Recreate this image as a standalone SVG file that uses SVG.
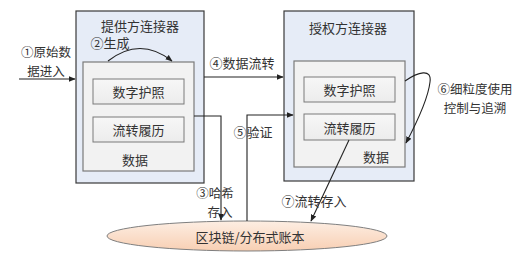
<svg xmlns="http://www.w3.org/2000/svg" width="526" height="261" viewBox="0 0 526 261">
<style>
text{font-family:"Noto Sans CJK SC","Noto Sans",sans-serif;font-size:13px;fill:#333;text-anchor:middle;dominant-baseline:central}
text.ml{font-size:12.5px}
.outer{fill:#e6ecf7;stroke:#3a3a3a;stroke-width:1.2}
.inner{fill:#f2f2f2;stroke:#7a7a7a;stroke-width:1.2}
.item{fill:url(#gItem);stroke:#7a7a7a;stroke-width:1}
.line{fill:none;stroke:#222;stroke-width:1.1}
.arr{marker-end:url(#ah)}
</style>
<defs>
<marker id="ah" viewBox="0 0 10 10" refX="9" refY="5" markerWidth="7" markerHeight="7" orient="auto" markerUnits="userSpaceOnUse"><path d="M0,1 L10,5 L0,9 z" fill="#222"/></marker>
<linearGradient id="gItem" x1="0" y1="0" x2="0" y2="1"><stop offset="0" stop-color="#f7f7f7"/><stop offset="1" stop-color="#ececec"/></linearGradient>
<linearGradient id="gEll" x1="0" y1="0" x2="0" y2="1"><stop offset="0" stop-color="#fdeee3"/><stop offset="1" stop-color="#f8cfb3"/></linearGradient>
</defs>
<g id="provider">
<rect class="outer" x="76" y="11" width="128" height="172"/>
<text x="140" y="25">提供方连接器</text>
<rect class="inner" x="83" y="62" width="111" height="109"/>
<rect class="item" x="93" y="79" width="91" height="25"/>
<text x="138.5" y="91.5">数字护照</text>
<rect class="item" x="93" y="117" width="91" height="25"/>
<text x="138.5" y="129.5">流转履历</text>
<text x="135" y="159">数据</text>
</g>
<g id="authorized">
<rect class="outer" x="284" y="11" width="130" height="170"/>
<text x="348" y="27">授权方连接器</text>
<rect class="inner" x="294" y="61" width="111" height="106"/>
<rect class="item" x="304" y="77" width="91" height="25"/>
<text x="349.5" y="89.5">数字护照</text>
<rect class="item" x="304" y="114" width="91" height="26"/>
<text x="349.5" y="127">流转履历</text>
<text x="376" y="156">数据</text>
</g>
<g id="ledger">
<ellipse cx="247" cy="236" rx="140" ry="15" fill="url(#gEll)" stroke="#7f7f7f" stroke-width="1"/>
<text x="250" y="236">区块链/分布式账本</text>
</g>
<g id="connectors">
<path class="line arr" d="M19,79 L75,79"/>
<path class="line arr" d="M108,61 Q140,36 172,61"/>
<path class="line arr" d="M204,77 L283,77"/>
<path class="line arr" d="M194,116 L221,116 L221,220"/>
<path class="line arr" d="M247,221 L247,115 L293,115"/>
<path class="line arr" d="M405,81 C418,72 432,68 430,82 C428,100 416,124 406,143"/>
<path class="line arr" d="M349,140 L311,221"/>
</g>
<g id="labels">
<text class="ml" x="46" y="51">①原始数</text>
<text class="ml" x="46" y="70">据进入</text>
<text x="110" y="42">②生成</text>
<text x="242" y="62">④数据流转</text>
<text class="ml" x="215" y="192">③哈希</text>
<text class="ml" x="220" y="211">存入</text>
<text x="253" y="131">⑤验证</text>
<text class="ml" x="475" y="88">⑥细粒度使用</text>
<text class="ml" x="475" y="107">控制与追溯</text>
<text x="314" y="200">⑦流转存入</text>
</g>
</svg>
